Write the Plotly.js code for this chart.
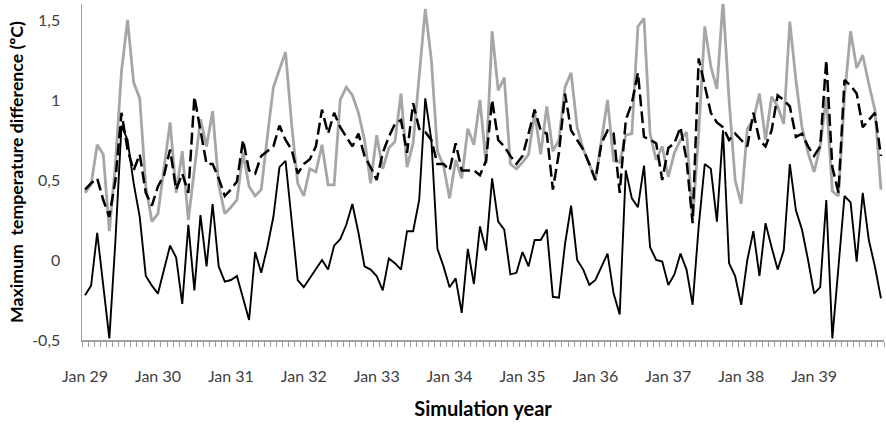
<!DOCTYPE html>
<html>
<head>
<meta charset="utf-8">
<script src="https://cdn.plot.ly/plotly-3.0.1.min.js"></script>
<style>
  html, body { margin: 0; padding: 0; background: #ffffff; }
  #chart { width: 886px; height: 424px; }
</style>
</head>
<body>
<div id="chart"></div>
<script>
// Year labels shown on the x axis (one per January)
const yearLabels = ['Jan 29', 'Jan 30', 'Jan 31', 'Jan 32', 'Jan 33', 'Jan 34',
                    'Jan 35', 'Jan 36', 'Jan 37', 'Jan 38', 'Jan 39'];

// y axis ticks, written with a decimal comma
const yTickValues = [-0.5, 0, 0.5, 1, 1.5];
const yTickLabels = ['-0,5', '0', '0,5', '1', '1,5'];

// Monthly maximum temperature difference (ºC), Jan 29 – Dec 39
const grayLine = [
  0.42, 0.47, 0.72, 0.66, 0.18, 0.60, 1.18, 1.50, 1.11, 1.01, 0.46, 0.24,
  0.29, 0.56, 0.86, 0.42, 0.68, 0.25, 0.58, 0.88, 0.71, 0.93, 0.47, 0.29,
  0.33, 0.375, 0.67, 0.46, 0.40, 0.44, 0.77, 1.08, 1.19, 1.30, 0.85, 0.48,
  0.40, 0.57, 0.55, 0.72, 0.47, 0.47, 1.00, 1.08, 1.03, 0.92, 0.75, 0.48,
  0.78, 0.57, 0.70, 0.74, 1.04, 0.58, 0.73, 1.15, 1.57, 1.25, 0.68, 0.59,
  0.385, 0.625, 0.51, 0.82, 0.72, 1.00, 0.60, 1.43, 1.06, 1.14, 0.60, 0.57,
  0.61, 0.66, 0.92, 0.66, 0.96, 0.68, 0.75, 1.08, 1.17, 0.83, 0.69, 0.60,
  0.50, 0.75, 1.00, 0.62, 0.61, 0.78, 0.79, 1.46, 1.51, 0.79, 0.625, 0.71,
  0.52, 0.67, 0.75, 0.80, 0.25, 0.79, 1.46, 1.21, 1.07, 1.62, 1.00, 0.50,
  0.35, 0.82, 0.875, 1.04, 0.75, 1.02, 0.96, 0.85, 1.49, 1.125, 0.83, 0.67,
  0.55, 0.71, 1.02, 0.43, 0.40, 1.02, 1.43, 1.20, 1.28, 1.10, 0.94, 0.44
];

const dashedLine = [
  0.44, 0.48, 0.51, 0.375, 0.27, 0.50, 0.92, 0.69, 0.56, 0.66, 0.42, 0.34,
  0.46, 0.53, 0.69, 0.44, 0.54, 0.42, 1.02, 0.80, 0.60, 0.60, 0.51, 0.40,
  0.44, 0.49, 0.75, 0.56, 0.54, 0.65, 0.68, 0.71, 0.84, 0.75, 0.69, 0.54,
  0.60, 0.63, 0.71, 0.94, 0.79, 0.92, 0.83, 0.77, 0.71, 0.79, 0.65, 0.58,
  0.50, 0.67, 0.77, 0.85, 0.875, 0.67, 0.98, 0.82, 0.80, 0.75, 0.60, 0.60,
  0.56, 0.73, 0.56, 0.56, 0.56, 0.53, 0.62, 1.00, 0.75, 0.71, 0.65, 0.60,
  0.65, 0.79, 0.94, 0.81, 0.79, 0.44, 0.67, 1.04, 0.81, 0.75, 0.69, 0.60,
  0.50, 0.73, 0.81, 0.79, 0.42, 0.875, 0.98, 1.17, 0.77, 0.75, 0.73, 0.50,
  0.70, 0.73, 0.83, 0.625, 0.23, 1.26, 1.10, 0.92, 0.86, 0.83, 0.75, 0.79,
  0.75, 0.71, 0.92, 0.75, 0.71, 0.81, 1.03, 1.00, 0.96, 0.77, 0.79, 0.71,
  0.65, 0.71, 1.25, 0.58, 0.42, 1.125, 1.09, 1.04, 0.83, 0.875, 0.92, 0.65
];

const blackLine = [
  -0.22, -0.16, 0.17, -0.16, -0.49, 0.12, 0.84, 0.75, 0.48, 0.27, -0.10, -0.16,
  -0.21, -0.06, 0.09, 0.015, -0.275, 0.22, -0.19, 0.28, -0.04, 0.35, -0.04, -0.135,
  -0.125, -0.10, -0.24, -0.375, 0.05, -0.08, 0.08, 0.27, 0.58, 0.62, 0.25, -0.125,
  -0.17, -0.115, -0.06, 0.00, -0.06, 0.09, 0.13, 0.22, 0.35, 0.17, -0.04, -0.06,
  -0.10, -0.19, 0.01, -0.02, -0.06, 0.18, 0.18, 0.375, 1.01, 0.75, 0.07, -0.04,
  -0.17, -0.115, -0.33, 0.07, -0.15, 0.21, 0.06, 0.51, 0.24, 0.19, -0.09, -0.08,
  0.05, -0.04, 0.125, 0.125, 0.19, -0.23, -0.235, 0.10, 0.34, 0.00, -0.06, -0.156,
  -0.125, -0.04, 0.04, -0.21, -0.34, 0.56, 0.385, 0.33, 0.59, 0.08, 0.00, -0.01,
  -0.156, -0.09, 0.04, -0.06, -0.28, 0.21, 0.60, 0.57, 0.24, 0.81, -0.02, -0.10,
  -0.28, 0.00, 0.18, -0.10, 0.23, 0.08, -0.06, 0.06, 0.60, 0.31, 0.19, 0.00,
  -0.21, -0.17, 0.375, -0.49, -0.05, 0.40, 0.36, -0.01, 0.42, 0.125, -0.04, -0.24
];

const monthIndex = grayLine.map((_, i) => i);
const yearTickPositions = yearLabels.map((_, k) => k * 12);

const traces = [
  { x: monthIndex, y: grayLine, type: 'scatter', mode: 'lines',
    line: { color: '#a6a6a6', width: 2.8 }, hoverinfo: 'skip' },
  { x: monthIndex, y: dashedLine, type: 'scatter', mode: 'lines',
    line: { color: '#000000', width: 2.5, dash: '12px,5px' }, hoverinfo: 'skip' },
  { x: monthIndex, y: blackLine, type: 'scatter', mode: 'lines',
    line: { color: '#000000', width: 1.9 }, hoverinfo: 'skip' }
];

const tickFont = { family: 'Lato, "Open Sans", sans-serif', size: 16, color: '#404040' };
const xTitleFont = { family: 'Lato, "Open Sans", sans-serif', size: 20, color: '#000000', weight: 'bold' };
const yTitleFont = { family: 'Lato, "Open Sans", sans-serif', size: 17.7, color: '#000000', weight: 'bold' };

const layout = {
  width: 886,
  height: 424,
  margin: { l: 82, r: 2, t: 4, b: 84 },
  paper_bgcolor: '#ffffff',
  plot_bgcolor: '#ffffff',
  showlegend: false,
  xaxis: {
    range: [-0.5, monthIndex.length - 0.5],
    tickmode: 'array',
    tickvals: yearTickPositions,
    ticktext: yearLabels,
    ticks: '',
    ticklabelstandoff: 21,
    tickfont: tickFont,
    showgrid: false,
    zeroline: false,
    showline: true,
    linecolor: '#a0a0a0',
    linewidth: 1.5,
    minor: { tickmode: 'linear', tick0: -0.5, dtick: 1, ticks: 'outside',
             ticklen: 5, tickwidth: 1, tickcolor: '#a0a0a0', showgrid: false },
    title: { text: 'Simulation year', font: xTitleFont, standoff: 18 }
  },
  yaxis: {
    range: [-0.5, 1.6],
    tickmode: 'array',
    tickvals: yTickValues,
    ticktext: yTickLabels,
    ticks: '',
    ticklabelstandoff: 17,
    tickfont: tickFont,
    showgrid: false,
    zeroline: false,
    showline: true,
    linecolor: '#a0a0a0',
    linewidth: 1.5,
    title: { text: 'Maximum\u00A0 temperature difference (ºC)', font: yTitleFont, standoff: 4 }
  }
};

Plotly.newPlot('chart', traces, layout, { displayModeBar: false, staticPlot: true });
</script>
</body>
</html>
